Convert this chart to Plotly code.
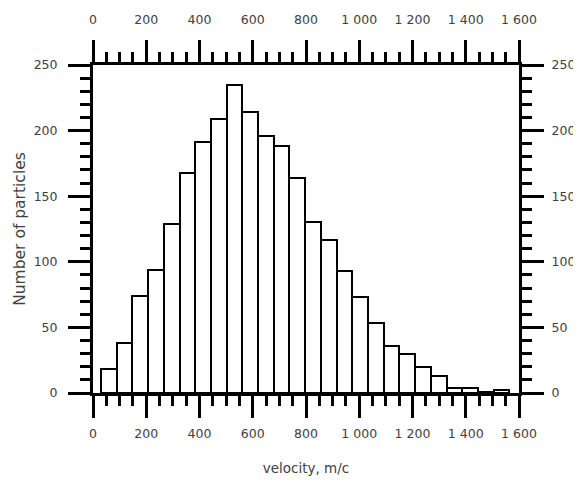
import plotly.graph_objects as go

# Histogram data (counts per bin)
bin_start = 30
bin_width = 59
counts = [18, 38, 74, 94, 129, 168, 191, 209, 235, 214, 196, 188, 164,
          130, 117, 93, 73, 53, 36, 30, 20, 13, 4, 4, 1, 2]
centers = [bin_start + bin_width * (i + 0.5) for i in range(len(counts))]

x_range = [0, 1600]
y_range = [0, 250]
x_major, x_minor = 200, 50
y_major, y_minor = 50, 10

FONT = "DejaVu Sans"
TXT = "#404040"

fig = go.Figure()
fig.add_trace(go.Bar(
    x=centers, y=counts, width=[bin_width] * len(counts),
    marker=dict(color="white", line=dict(color="black", width=2)),
    showlegend=False, hoverinfo="skip",
))
# invisible traces to activate the extra (overlaid) axes
for xa, ya in [("x2", "y2"), ("x3", "y3"), ("x4", "y4")]:
    fig.add_trace(go.Scatter(x=[0], y=[0], xaxis=xa, yaxis=ya,
                             mode="markers", marker=dict(opacity=0),
                             showlegend=False, hoverinfo="skip"))

base = dict(automargin=False, ticks="outside", tickcolor="black",
            showgrid=False, zeroline=False)
tf = dict(family=FONT, size=12.5, color=TXT)

def xmajor(**kw):
    return dict(base, range=x_range, tickmode="linear", tick0=0, dtick=x_major,
                separatethousands=True, ticklen=22, tickwidth=3,
                showline=True, linewidth=3, linecolor="black", tickfont=tf, **kw)

def xminor(**kw):
    return dict(base, range=x_range, tickmode="linear", tick0=0, dtick=x_minor,
                ticklen=12, tickwidth=3, showticklabels=False, showline=False, **kw)

def ymajor(**kw):
    return dict(base, range=y_range, tickmode="linear", tick0=0, dtick=y_major,
                ticklen=22, tickwidth=3,
                showline=True, linewidth=3, linecolor="black", tickfont=tf, **kw)

def yminor(**kw):
    return dict(base, range=y_range, tickmode="linear", tick0=0, dtick=y_minor,
                ticklen=12, tickwidth=3, showticklabels=False, showline=False, **kw)

fig.update_layout(
    width=573, height=476,
    margin=dict(l=85, r=62, t=57, b=91, autoexpand=False),
    separators=". ",
    paper_bgcolor="white", plot_bgcolor="white",
    bargap=0,
    xaxis=xmajor(side="bottom", ticklabelstandoff=5,
                 title=dict(text="velocity, m/c",
                            font=dict(family=FONT, size=13.5, color=TXT), standoff=24)),
    yaxis=ymajor(side="left", ticklabelstandoff=8,
                 title=dict(text="Number of particles",
                            font=dict(family=FONT, size=15.5, color=TXT), standoff=5)),
    xaxis2=xmajor(side="top", overlaying="x", anchor="y", ticklabelstandoff=11),
    yaxis2=ymajor(side="right", overlaying="y", anchor="x", ticklabelstandoff=5),
    xaxis3=xminor(side="bottom", overlaying="x", anchor="y"),
    yaxis3=yminor(side="left", overlaying="y", anchor="x"),
    xaxis4=xminor(side="top", overlaying="x", anchor="y"),
    yaxis4=yminor(side="right", overlaying="y", anchor="x"),
)

fig.write_html("out.html")
